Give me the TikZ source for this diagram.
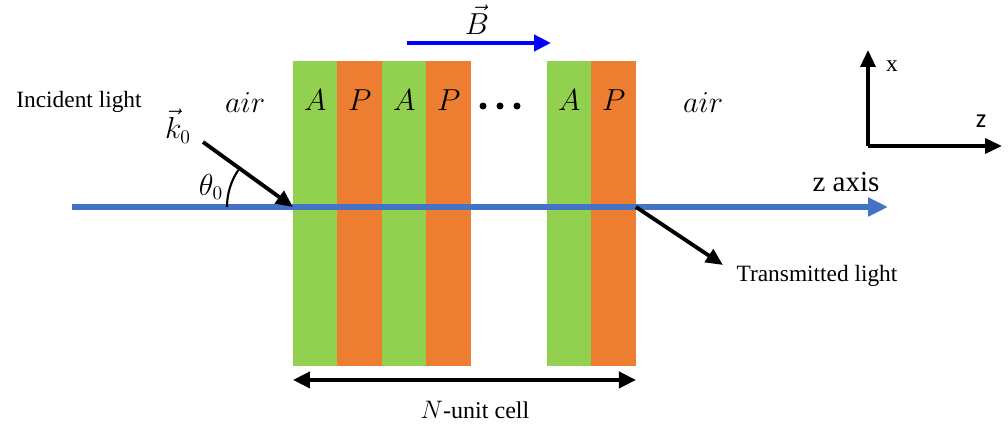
\documentclass[tikz,border=0pt]{standalone}
\usepackage[no-math]{fontspec}
\setmainfont{Liberation Serif}
\newfontfamily\axisfont{Carlito}
\usepackage{amsmath}
\usepackage{tikz}
\usetikzlibrary{arrows.meta,positioning,calc}
\definecolor{cLeaf}{HTML}{92D050}
\definecolor{cAmber}{HTML}{ED7D31}
\definecolor{cAxis}{HTML}{4472C4}
\definecolor{cField}{HTML}{0000FF}
\definecolor{cInk}{HTML}{000000}
\tikzset{
  layer/.style={draw=none,fill=#1,minimum width=0.89cm,minimum height=6.1cm,inner sep=0pt,outer sep=0pt},
  layer/.default=cLeaf,
  txt/.style={font=\fontsize{13.3}{16}\selectfont,text=cInk,inner sep=1pt},
  mth/.style={font=\fontsize{17}{20}\selectfont,text=cInk,inner sep=1pt},
  ray/.style={-{Triangle[length=0.34cm,width=0.3cm]},line width=2.2pt,color=cInk},
  darr/.style={{Triangle[length=0.34cm,width=0.32cm]}-{Triangle[length=0.34cm,width=0.32cm]},line width=2.2pt,color=cInk},
  zarr/.style={-{Triangle[length=0.4cm,width=0.36cm]},line width=2.9pt,color=cAxis},
}
\begin{document}
\begin{tikzpicture}[x=0.02cm,y=0.02cm]
  \useasboundingbox (0,0) rectangle (1008,423);
  % layers of the stack
  \node[layer=cLeaf,anchor=north west] (a1) at (293,362) {};
  \node[layer=cAmber,right=0pt of a1] (p1) {};
  \node[layer=cLeaf,right=0pt of p1]  (a2) {};
  \node[layer=cAmber,right=0pt of a2] (p2) {};
  \node[layer=cLeaf,anchor=north west] (a3) at (547,362) {};
  \node[layer=cAmber,right=0pt of a3] (p3) {};
  \foreach \s/\t in {a1/A,p1/P,a2/A,p2/P,a3/A,p3/P}
    \node[mth] at ($(\s.north)+(0,-39)$) {$\t$};
  \foreach \dx in {483,500,517}
    \fill[cInk] (\dx,317) circle[radius=0.07cm];

  % field
  \coordinate (bs) at (407,380);
  \coordinate (be) at (551,380);
  \draw[-{Triangle[length=0.34cm,width=0.32cm]},line width=2.4pt,color=cField] (bs) -- (be);
  \node[mth] (bl) at (477,403) {$\vec{B}$};

  % z axis
  \coordinate (zs) at (72,216);
  \coordinate (ze) at (888,216);
  \draw[zarr] (zs) -- (ze);
  \node[txt,font=\fontsize{16.5}{19}\selectfont] (zl) at (846,241) {z axis};

  % incident and transmitted rays
  \coordinate (hit) at (a1.west |- zs);
  \coordinate (out) at (p3.east |- zs);
  \coordinate (kin) at (203,281);
  \coordinate (kout) at (723,158);
  \draw[ray] (kin) -- (hit);
  \draw[ray] (out) -- (kout);
  \draw[line width=1.2pt,cInk] ($(hit)+(-66,0)$) arc[start angle=180,end angle=146,radius=1.32cm];
  \node[mth,font=\fontsize{16}{19}\selectfont] (kl) at (178,297) {$\vec{k}_0$};
  \node[mth,font=\fontsize{16}{19}\selectfont] (tl) at (211,236) {$\theta_0$};

  \node[txt] (inc) at (79,321) {Incident light};
  \node[txt] (tra) at (817,147) {Transmitted light};
  \node[mth] (airl) at (245,320) {$air$};
  \node[mth] (airr) at (703,320) {$air$};

  % frame axes
  \coordinate (o) at (868,277);
  \coordinate (ox) at (868,373);
  \coordinate (oz) at (1002,277);
  \draw[ray,line width=2pt] (o) -- (ox);
  \draw[ray,line width=2pt] (o) -- (oz);
  \node[txt] (xl) at (892,357) {x};
  \node[txt,font=\axisfont\fontsize{15}{18}\selectfont] (zz) at (981,302) {z};

  % cell count
  \draw[darr] ($(a1.south west)+(0,-14)$) -- ($(p3.south east)+(0,-14)$);
  \node[txt,font=\fontsize{13.7}{16}\selectfont] (nl) at (475,13) {$N$-unit cell};
\end{tikzpicture}
\end{document}
